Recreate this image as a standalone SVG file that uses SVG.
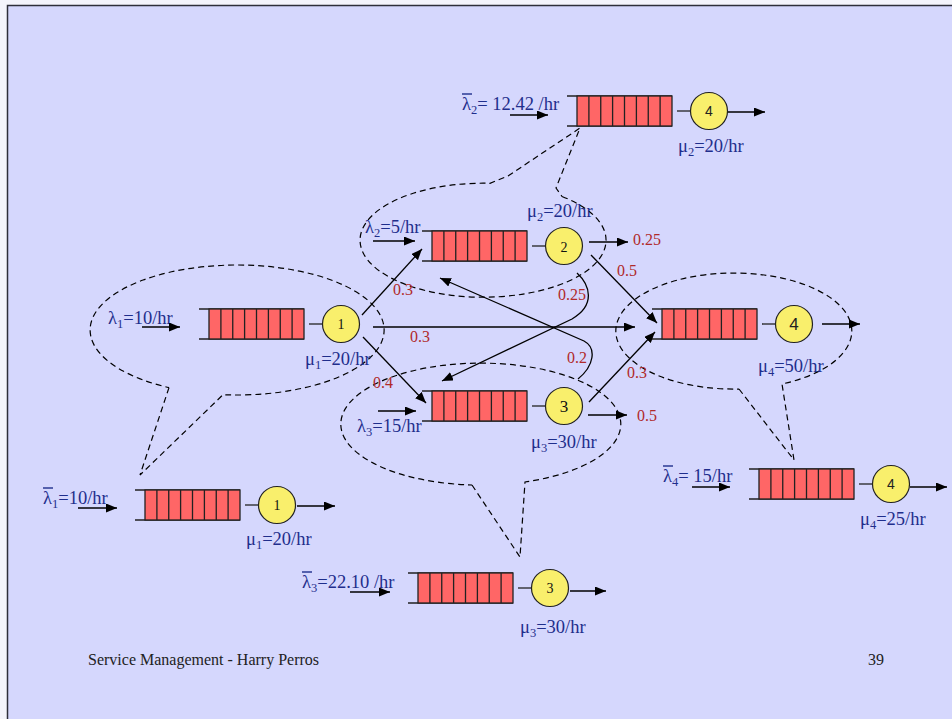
<svg xmlns="http://www.w3.org/2000/svg" xmlns:xlink="http://www.w3.org/1999/xlink" width="952" height="719" viewBox="0 0 952 719">
  <style>
    .bg { fill: #D5D7FD; stroke: #2E2E3A; stroke-width: 1.5; }
    .lbl { font-family: "Liberation Serif", "Times New Roman", serif; font-size: 18.5px; fill: #1F2E8C; }
    .sub { font-size: 12.5px; }
    .prob { font-family: "Liberation Serif", "Times New Roman", serif; font-size: 16px; fill: #B02A2A; }
    .num { font-family: "Liberation Serif", "Times New Roman", serif; font-size: 14px; fill: #111; text-anchor: middle; }
    .numS { font-family: "Liberation Sans", Arial, sans-serif; font-size: 15px; fill: #222; text-anchor: middle; }
    .foot { font-family: "Liberation Serif", "Times New Roman", serif; font-size: 16px; fill: #222; }
    .bar { stroke: #1F2E8C; stroke-width: 1.4; }
    .q-line { stroke: #222; stroke-width: 1.3; fill: none; }
    .q-box { fill: #FF6666; stroke: #222; stroke-width: 1.3; }
    .server { fill: #F9EF6C; stroke: #222; stroke-width: 1.2; }
    .arrow { stroke: #000; stroke-width: 1.3; fill: none; marker-end: url(#head); }
    .callout { stroke: #000; stroke-width: 1.2; fill: none; stroke-dasharray: 6 4; }
  </style>
  <defs>
    <marker id="head" viewBox="0 0 11 9" refX="11" refY="4.5" markerWidth="11" markerHeight="9" markerUnits="userSpaceOnUse" orient="auto">
      <path d="M0,0 L11,4.5 L0,9 Z" fill="#000"/>
    </marker>
    <!-- queue with 8 buffer slots and a single server; origin = left end of the top rail -->
    <g id="queue">
      <path class="q-line" d="M0,0 H105 M0,30 H105"/>
      <rect class="q-box" x="10" y="0" width="95" height="30"/>
      <path class="q-line" d="M21.9,0 V30 M33.75,0 V30 M45.6,0 V30 M57.5,0 V30 M69.4,0 V30 M81.25,0 V30 M93.1,0 V30"/>
      <path class="q-line" d="M110,15 H123"/>
      <circle class="server" cx="142" cy="15" r="18.5"/>
    </g>
  </defs>

  <rect x="0" y="0" width="952" height="719" fill="#F4F4FC"/>
  <rect class="bg" x="7.5" y="5.5" width="960" height="730"/>

  <!-- dashed callouts around each station -->
  <g id="callouts">
    <path class="callout" d="M169,387.6 L140,475 L223,394.7 A147 65 0 1 0 169,387.6"/>
    <path class="callout" d="M562,196.5 A123 57 0 1 1 490,183.3 L508,176 L580,128 L556,188 L562,196.5"/>
    <path class="callout" d="M739,389 L794,460 L782,384 A118 58 0 1 0 739,389"/>
    <path class="callout" d="M472,485 L520,557 L525,482 A140 61 0 1 0 472,485"/>
  </g>

  <!-- network stations -->
  <g id="station1">
    <use xlink:href="#queue" href="#queue" x="199" y="309"/>
    <text class="num" x="341" y="329">1</text>
    <text class="lbl" x="108" y="324">λ<tspan class="sub" dy="4">1</tspan><tspan dy="-4">=10/hr</tspan></text>
    <text class="lbl" x="305" y="365">μ<tspan class="sub" dy="4">1</tspan><tspan dy="-4">=20/hr</tspan></text>
  </g>
  <g id="station2">
    <use xlink:href="#queue" href="#queue" x="422" y="231"/>
    <text class="num" x="564" y="252" font-size="15">2</text>
    <text class="lbl" x="365" y="233">λ<tspan class="sub" dy="4">2</tspan><tspan dy="-4">=5/hr</tspan></text>
    <text class="lbl" x="527" y="217">μ<tspan class="sub" dy="4">2</tspan><tspan dy="-4">=20/hr</tspan></text>
  </g>
  <g id="station3">
    <use xlink:href="#queue" href="#queue" x="422" y="391"/>
    <text class="num" x="564" y="412" style="font-size:17px">3</text>
    <text class="lbl" x="357" y="432">λ<tspan class="sub" dy="4">3</tspan><tspan dy="-4">=15/hr</tspan></text>
    <text class="lbl" x="531" y="448">μ<tspan class="sub" dy="4">3</tspan><tspan dy="-4">=30/hr</tspan></text>
  </g>
  <g id="station4">
    <use xlink:href="#queue" href="#queue" x="652" y="309"/>
    <text class="numS" x="794" y="330" style="font-size:17px">4</text>
    <text class="lbl" x="758" y="372">μ<tspan class="sub" dy="4">4</tspan><tspan dy="-4">=50/hr</tspan></text>
  </g>

  <!-- decomposed single stations -->
  <g id="single1">
    <use xlink:href="#queue" href="#queue" x="135" y="490"/>
    <text class="num" x="277" y="510">1</text>
    <line class="bar" x1="43" y1="488" x2="53" y2="488"/>
    <text class="lbl" x="43" y="504">λ<tspan class="sub" dy="4">1</tspan><tspan dy="-4">=10/hr</tspan></text>
    <text class="lbl" x="246" y="545">μ<tspan class="sub" dy="4">1</tspan><tspan dy="-4">=20/hr</tspan></text>
  </g>
  <g id="single2">
    <use xlink:href="#queue" href="#queue" x="567" y="96"/>
    <text class="numS" x="709" y="116" style="font-size:14px">4</text>
    <line class="bar" x1="462" y1="94" x2="472" y2="94"/>
    <text class="lbl" x="462" y="110">λ<tspan class="sub" dy="4">2</tspan><tspan dy="-4">= 12.42 /hr</tspan></text>
    <text class="lbl" x="678" y="152">μ<tspan class="sub" dy="4">2</tspan><tspan dy="-4">=20/hr</tspan></text>
  </g>
  <g id="single3">
    <use xlink:href="#queue" href="#queue" x="408" y="573"/>
    <text class="num" x="550" y="593">3</text>
    <line class="bar" x1="302" y1="572" x2="312" y2="572"/>
    <text class="lbl" x="302" y="588">λ<tspan class="sub" dy="4">3</tspan><tspan dy="-4">=22.10  /hr</tspan></text>
    <text class="lbl" x="520" y="633">μ<tspan class="sub" dy="4">3</tspan><tspan dy="-4">=30/hr</tspan></text>
  </g>
  <g id="single4">
    <use xlink:href="#queue" href="#queue" x="749" y="469"/>
    <text class="numS" x="891" y="489" style="font-size:14px">4</text>
    <line class="bar" x1="663" y1="466" x2="673" y2="466"/>
    <text class="lbl" x="663" y="482">λ<tspan class="sub" dy="4">4</tspan><tspan dy="-4">=  15/hr</tspan></text>
    <text class="lbl" x="860" y="525">μ<tspan class="sub" dy="4">4</tspan><tspan dy="-4">=25/hr</tspan></text>
  </g>

  <!-- routing arrows and branching probabilities -->
  <g id="connectors">
    <path class="arrow" d="M142,327 L180,327"/>
    <path class="arrow" d="M373,241 L415,241"/>
    <path class="arrow" d="M378,411 L416,411"/>
    <path class="arrow" d="M362,315 L422,249"/>
    <path class="arrow" d="M373,327 L635,327"/>
    <path class="arrow" d="M363,337 L426,403"/>
    <path class="arrow" d="M589,242 L628,242"/>
    <path class="arrow" d="M591,255 L657,323"/>
    <path class="arrow" d="M577,273 C590,285 596,305 572,319 L442,381"/>
    <path class="arrow" d="M578,379 C594,366 597,348 584,341 L440,278"/>
    <path class="arrow" d="M589,402 L655,332"/>
    <path class="arrow" d="M588,415 L627,415"/>
    <path class="arrow" d="M822,324 L860,324"/>

    <path class="arrow" d="M510,115 L548,115"/>
    <path class="arrow" d="M728,112 L765,112"/>
    <path class="arrow" d="M78,508 L117,508"/>
    <path class="arrow" d="M297,506 L335,506"/>
    <path class="arrow" d="M350,592 L390,592"/>
    <path class="arrow" d="M570,591 L606,591"/>
    <path class="arrow" d="M692,487 L730,487"/>
    <path class="arrow" d="M910,487 L947,487"/>

    <text class="prob" x="393" y="295">0.3</text>
    <text class="prob" x="410" y="342">0.3</text>
    <text class="prob" x="373" y="388">0.4</text>
    <text class="prob" x="633" y="245">0.25</text>
    <text class="prob" x="617" y="276">0.5</text>
    <text class="prob" x="558" y="300">0.25</text>
    <text class="prob" x="567" y="363">0.2</text>
    <text class="prob" x="627" y="378">0.3</text>
    <text class="prob" x="637" y="421">0.5</text>
  </g>

  <g id="footer">
    <text class="foot" x="88" y="665">Service Management - Harry Perros</text>
    <text class="foot" x="868" y="665">39</text>
  </g>
</svg>
